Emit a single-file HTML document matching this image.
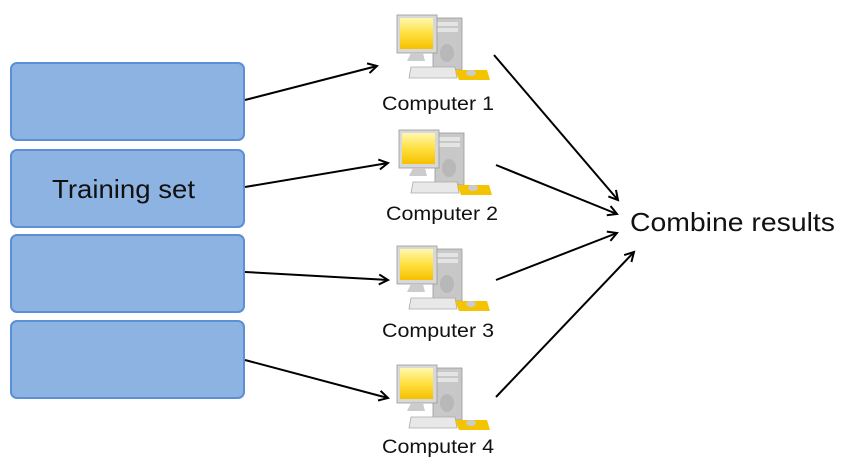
<!DOCTYPE html>
<html><head><meta charset="utf-8"><style>
body{margin:0;background:#fff;width:841px;height:471px;overflow:hidden}
.b{position:absolute;left:10px;width:231px;height:75px;background:#8db3e2;border:2px solid #5b8fd6;border-radius:7px}
</style></head><body>
<div class="b" style="top:62px"></div>
<div class="b" style="top:149px"></div>
<div class="b" style="top:234px"></div>
<div class="b" style="top:320px"></div>
<svg width="841" height="471" style="position:absolute;left:0;top:0" font-family="Liberation Sans, sans-serif">
<defs>
<marker id="a" markerWidth="12" markerHeight="12" refX="10" refY="6" orient="auto" markerUnits="userSpaceOnUse"><path d="M1,1 L10,6 L1,11" fill="none" stroke="#000" stroke-width="2"/></marker>
<linearGradient id="s" x1="0" y1="0" x2="0" y2="1"><stop offset="0" stop-color="#fff7b0"/><stop offset="0.5" stop-color="#ffe040"/><stop offset="1" stop-color="#f5c000"/></linearGradient>
<g id="pc">
<rect x="36" y="3" width="29" height="52" fill="#c8c8c8" stroke="#999" stroke-width="0.8"/>
<rect x="39" y="7" width="22" height="4" fill="#e4e4e4"/><rect x="39" y="13" width="22" height="4" fill="#e4e4e4"/>
<ellipse cx="50" cy="38" rx="7" ry="9" fill="#b8b8b8"/>
<rect x="0" y="0" width="40" height="38" fill="#d8d8d8" stroke="#999" stroke-width="0.8"/>
<rect x="3" y="3" width="33" height="31" fill="url(#s)"/>
<path d="M14,38 L26,38 L28,46 L10,46Z" fill="#ccc"/>
<path d="M14,52 L58,52 L60,63 L12,63Z" fill="#e8e8e8" stroke="#aaa" stroke-width="0.8"/>
<path d="M58,55 L90,55 L93,65 L62,65Z" fill="#f5c400"/>
<ellipse cx="74" cy="58" rx="5" ry="3" fill="#ccc"/>
</g>
</defs>
<use href="#pc" x="397" y="15"/>
<use href="#pc" x="399" y="130"/>
<use href="#pc" x="397" y="246"/>
<use href="#pc" x="397" y="365"/>
<text x="52" y="198" font-size="26" fill="#111" textLength="143" lengthAdjust="spacingAndGlyphs">Training set</text>
<g font-size="19" fill="#111">
<text x="382" y="110" textLength="112" lengthAdjust="spacingAndGlyphs">Computer 1</text>
<text x="386" y="220" textLength="112" lengthAdjust="spacingAndGlyphs">Computer 2</text>
<text x="382" y="337" textLength="112" lengthAdjust="spacingAndGlyphs">Computer 3</text>
<text x="382" y="453" textLength="112" lengthAdjust="spacingAndGlyphs">Computer 4</text>
</g>
<text x="630" y="231" font-size="26" fill="#111" textLength="205" lengthAdjust="spacingAndGlyphs">Combine results</text>
<g stroke="#000" stroke-width="2" marker-end="url(#a)">
<line x1="245" y1="100" x2="377" y2="66"/>
<line x1="245" y1="187" x2="388" y2="163"/>
<line x1="245" y1="272" x2="388" y2="280"/>
<line x1="245" y1="360" x2="388" y2="398"/>
<line x1="494" y1="55" x2="618" y2="200"/>
<line x1="496" y1="165" x2="617" y2="214"/>
<line x1="496" y1="280" x2="617" y2="233"/>
<line x1="496" y1="397" x2="634" y2="252"/>
</g>
</svg>
</body></html>
